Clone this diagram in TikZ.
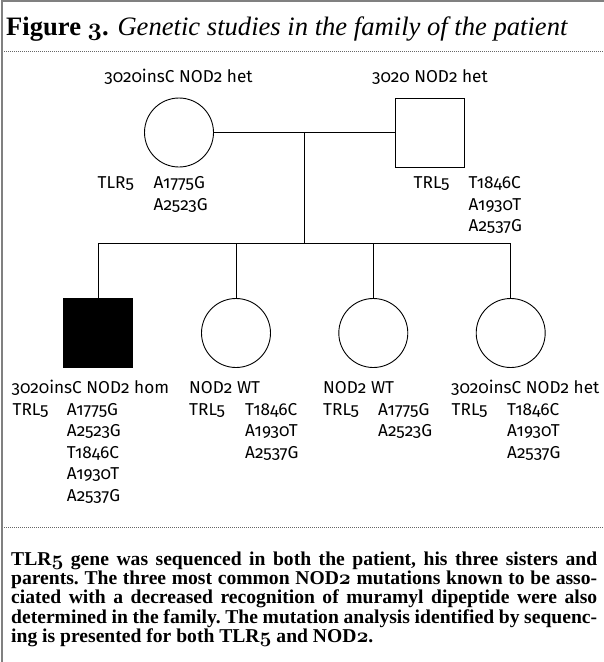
\documentclass[tikz,border=0pt]{standalone}
\usepackage{fontspec}
\setmainfont{Liberation Serif}
\newfontfamily\lblfont[Numbers=OldStyle]{Fira Sans}
\newcommand{\osnb}[1]{{\usefont{OML}{cmm}{b}{it}#1}}
\newcommand{\colstack}[1]{\begin{tabular}[t]{@{}l@{}}#1\end{tabular}}
\newcommand{\capline}[1]{\makebox[586pt][s]{#1}}
\tikzset{
  lbl/.style={font=\lblfont\fontsize{17.2}{21.5}\selectfont, inner sep=0pt, anchor=base west},
  lblc/.style={lbl, anchor=base},
  person/.style={draw=black, line width=0.9pt, minimum size=69pt, inner sep=0pt},
  fem/.style={person, circle},
  mal/.style={person, rectangle},
  tree/.style={draw=black, line width=0.9pt},
  dotline/.style={draw=black!60, line width=0.7pt, dash pattern=on 0.7pt off 1.3pt},
  framebar/.style={draw=black!50, line width=1.4pt},
  titletxt/.style={font=\fontsize{26.6}{30}\selectfont, inner sep=0pt, anchor=base west},
  captxt/.style={font=\bfseries\fontsize{19.6}{19}\selectfont\frenchspacing, inner sep=0pt, anchor=base west}
}
\begin{document}
\begin{tikzpicture}[x=1pt,y=-1pt]
\useasboundingbox (0,0) rectangle (604,662);
% frame
\draw[framebar] (2,662) -- (2,1) -- (604,1);
% title
\node[titletxt] (title) at (6,35) {\textbf{Figure \osnb{3}.} \textit{Genetic studies in the family of the patient}};
\draw[dotline] (4,51.5) -- (604,51.5);
% parents
\node[fem] (mother) at (179,132.5) {};
\node[mal] (father) at (430,132.5) {};
\node[lblc] (mlab) at (178.5,82) {3020insC NOD2 het};
\node[lblc] (flab) at (430,82) {3020 NOD2 het};
\node[lbl] (mtlr) at (97.5,188.5) {TLR5};
\node[lbl] (mmut) at (153.5,188.5) {\colstack{A1775G\\A2523G}};
\node[lbl] (ftrl) at (413.5,188.5) {TRL5};
\node[lbl] (fmut) at (468.5,188.5) {\colstack{T1846C\\A1930T\\A2537G}};
% children
\node[mal, fill=black] (son) at (98,333) {};
\node[fem] (d1) at (236,333) {};
\node[fem] (d2) at (373.3,333) {};
\node[fem] (d3) at (510.7,333) {};
% tree lines
\coordinate (mid) at (304.3,132.5);
\coordinate (sib) at (304.3,243.3);
\draw[tree] (mother.east) -- (father.west);
\draw[tree] (mid) -- (sib);
\draw[tree] (son.north) |- (sib) -| (d3.north);
\draw[tree] (d1.north) -- (d1.north |- sib);
\draw[tree] (d2.north) -- (d2.north |- sib);
% children labels
\node[lbl] (slab) at (11.5,393.3) {3020insC NOD2 hom};
\node[lbl] (strl) at (12.5,415) {TRL5};
\node[lbl] (smut) at (66.7,415) {\colstack{A1775G\\A2523G\\T1846C\\A1930T\\A2537G}};
\node[lbl] (d1lab) at (189,393.3) {NOD2 WT};
\node[lbl] (d1trl) at (189,415) {TRL5};
\node[lbl] (d1mut) at (245,415) {\colstack{T1846C\\A1930T\\A2537G}};
\node[lbl] (d2lab) at (323,393.3) {NOD2 WT};
\node[lbl] (d2trl) at (323,415) {TRL5};
\node[lbl] (d2mut) at (378,415) {\colstack{A1775G\\A2523G}};
\node[lbl] (d3lab) at (451,393.3) {3020insC NOD2 het};
\node[lbl] (d3trl) at (451.5,415) {TRL5};
\node[lbl] (d3mut) at (507,415) {\colstack{T1846C\\A1930T\\A2537G}};
\draw[dotline] (4,527.5) -- (604,527.5);
% caption
\node[captxt] (caption) at (11,565) {\colstack{%
\capline{TLR\osnb{5} gene was sequenced in both the patient, his three sisters and}\\
\capline{parents. The three most common NOD\osnb{2} mutations known to be asso-}\\
\capline{ciated with a decreased recognition of muramyl dipeptide were also}\\
\capline{determined in the family. The mutation analysis identified by sequenc-}\\
ing is presented for both TLR\osnb{5} and NOD\osnb{2}.}};
\end{tikzpicture}
\end{document}
